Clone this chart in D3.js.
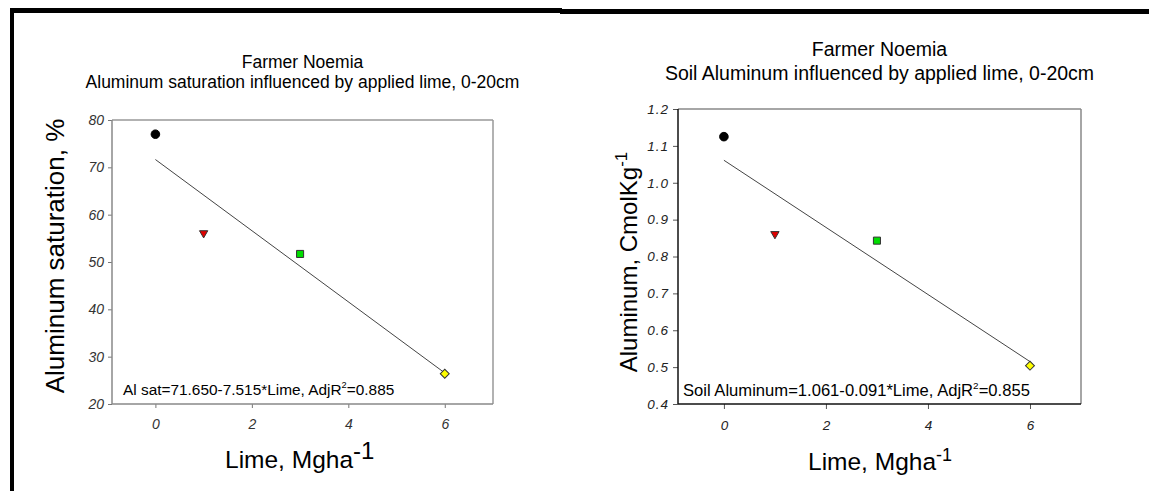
<!DOCTYPE html>
<html>
<head>
<meta charset="utf-8">
<script src="https://cdn.jsdelivr.net/npm/d3@7"></script>
<style>
  body { margin: 0; background: #fff; }
  text { font-family: "Liberation Sans", Arial, sans-serif; }
</style>
</head>
<body>
<script>
// values
const limeRates = [0, 1, 3, 6];
const alSatValues = [77.0, 56.1, 51.7, 26.4];
const soilAlValues = [1.125, 0.861, 0.843, 0.504];
const markerKinds = ['circle', 'triangle', 'square', 'diamond'];
const markerFills = ['#000000', '#e00000', '#00dd00', '#ffff00'];

// fitted lines as printed on the chart: [intercept, slope]
const alSatFit = [71.650, -7.515];
const soilAlFit = [1.061, -0.091];

const xTicks = [0, 2, 4, 6];
const alSatTicks = [20, 30, 40, 50, 60, 70, 80];
const soilAlTicks = [0.4, 0.5, 0.6, 0.7, 0.8, 0.9, 1.0, 1.1, 1.2];

const WIDTH = 1149, HEIGHT = 491;

const svg = d3.select('body').append('svg')
    .attr('width', WIDTH)
    .attr('height', HEIGHT);

// black page border bits (top bar + left bar)
svg.append('rect').attr('x', 10).attr('y', 8).attr('width', 552).attr('height', 5).attr('fill', '#000');
svg.append('rect').attr('x', 560).attr('y', 9).attr('width', 589).attr('height', 5).attr('fill', '#000');
svg.append('rect').attr('x', 10).attr('y', 8).attr('width', 4).attr('height', 483).attr('fill', '#000');

const symbolFor = {
    circle: d3.symbol().type(d3.symbolCircle).size(58),
    triangle: d3.symbol().type(d3.symbolTriangle).size(30),
    square: d3.symbol().type(d3.symbolSquare).size(50),
    diamond: d3.symbol().type(d3.symbolSquare).size(40)
};
const rotateFor = { circle: 0, triangle: 180, square: 0, diamond: 45 };

function drawPanel(p) {
    const x = d3.scaleLinear().domain([-0.9, 7]).range([p.left, p.right]);
    const y = d3.scaleLinear().domain(p.yDomain).range([p.bottom, p.top]);

    // titles
    svg.append('text')
        .attr('x', (p.left + p.right) / 2)
        .attr('y', p.titleY[0])
        .attr('text-anchor', 'middle')
        .style('font-size', p.titleSize + 'px')
        .text('Farmer Noemia');
    svg.append('text')
        .attr('x', (p.left + p.right) / 2)
        .attr('y', p.titleY[1])
        .attr('text-anchor', 'middle')
        .style('font-size', p.titleSize + 'px')
        .text(p.subtitle);

    // axes
    const yAxis = d3.axisLeft(y)
        .tickValues(p.yTicks)
        .tickSize(p.tickLen)
        .tickPadding(4)
        .tickFormat(p.yFormat);
    const yG = svg.append('g')
        .attr('transform', `translate(${p.left},0)`)
        .call(yAxis);
    yG.select('.domain').remove();
    yG.selectAll('line').attr('stroke', p.tickColor);
    yG.selectAll('text')
        .style('font-size', p.tickFont + 'px')
        .style('font-style', 'italic')
        .style('letter-spacing', p.tickSpacing + 'px')
        .attr('fill', p.tickTextColor);

    const xAxis = d3.axisBottom(x)
        .tickValues(xTicks)
        .tickSize(p.tickLen)
        .tickPadding(11)
        .tickFormat(d3.format('d'));
    const xG = svg.append('g')
        .attr('transform', `translate(0,${p.bottom})`)
        .call(xAxis);
    xG.select('.domain').remove();
    xG.selectAll('line').attr('stroke', p.tickColor);
    xG.selectAll('text')
        .style('font-size', p.tickFont + 'px')
        .style('font-style', 'italic')
        .attr('fill', p.tickTextColor);

    // frame
    svg.append('line').attr('x1', p.left).attr('x2', p.right).attr('y1', p.top).attr('y2', p.top)
        .attr('stroke', p.frameLight).attr('stroke-width', 1.5);
    svg.append('line').attr('x1', p.right).attr('x2', p.right).attr('y1', p.top).attr('y2', p.bottom)
        .attr('stroke', p.frameLight).attr('stroke-width', 1.5);
    svg.append('line').attr('x1', p.left).attr('x2', p.left).attr('y1', p.top).attr('y2', p.bottom)
        .attr('stroke', p.frameDark).attr('stroke-width', 1.5);
    svg.append('line').attr('x1', p.left).attr('x2', p.right).attr('y1', p.bottom).attr('y2', p.bottom)
        .attr('stroke', p.frameDark).attr('stroke-width', 1.5);

    // regression line
    const fitX = [limeRates[0], limeRates[limeRates.length - 1]];
    svg.append('line')
        .attr('x1', x(fitX[0])).attr('y1', y(p.fit[0] + p.fit[1] * fitX[0]))
        .attr('x2', x(fitX[1])).attr('y2', y(p.fit[0] + p.fit[1] * fitX[1]))
        .attr('stroke', '#444')
        .attr('stroke-width', 1);

    // points
    svg.append('g')
        .selectAll('path')
        .data(limeRates.map((d, i) => ({ lime: d, val: p.values[i], kind: markerKinds[i], fill: markerFills[i] })))
        .enter()
        .append('path')
        .attr('d', d => symbolFor[d.kind]())
        .attr('transform', d => `translate(${x(d.lime)},${y(d.val)}) rotate(${rotateFor[d.kind]})`)
        .attr('fill', d => d.fill)
        .attr('stroke', d => d.kind === 'circle' ? '#000' : '#333')
        .attr('stroke-width', 1);

    // equation
    const eq = svg.append('text')
        .attr('x', p.eqX)
        .attr('y', p.eqY)
        .style('font-size', p.eqSize + 'px');
    eq.append('tspan').text(p.eqText);
    eq.append('tspan').attr('dy', -7).style('font-size', (p.eqSize * 0.6) + 'px').text('2');
    eq.append('tspan').attr('dy', 7).text('=' + p.eqR2);

    // x title
    const xt = svg.append('text')
        .attr('x', p.xTitleX)
        .attr('y', p.xTitleY)
        .style('font-size', '24.5px');
    xt.append('tspan').text('Lime, Mgha');
    xt.append('tspan').attr('dy', -9).style('font-size', p.xSupSize + 'px').text('-1');

    // y title
    const yt = svg.append('text')
        .attr('transform', `translate(${p.yTitleX},${p.yTitleY}) rotate(-90)`)
        .attr('text-anchor', 'middle')
        .style('font-size', p.yTitleSize + 'px');
    yt.append('tspan').text(p.yTitle);
    if (p.yTitleSup) {
        yt.append('tspan').attr('dy', -10).style('font-size', '17px').text(p.yTitleSup);
    }
}

drawPanel({
    left: 112, right: 493, top: 120, bottom: 404,
    yDomain: [20, 80], yTicks: alSatTicks, yFormat: d3.format('d'),
    values: alSatValues, fit: alSatFit,
    titleY: [68, 88], titleSize: 17.5,
    subtitle: 'Aluminum saturation influenced by applied lime, 0-20cm',
    tickLen: 4, tickFont: 14, tickSpacing: 0, tickColor: '#777', tickTextColor: '#333',
    frameLight: '#999', frameDark: '#888',
    eqX: 123, eqY: 395, eqSize: 15.4,
    eqText: 'Al sat=71.650-7.515*Lime, AdjR', eqR2: '0.885',
    xTitleX: 225, xTitleY: 468, xSupSize: 24,
    yTitleX: 64, yTitleY: 256, yTitleSize: 26,
    yTitle: 'Aluminum saturation, %', yTitleSup: null
});

drawPanel({
    left: 678, right: 1081, top: 109, bottom: 404,
    yDomain: [0.4, 1.2], yTicks: soilAlTicks, yFormat: d3.format('.1f'),
    values: soilAlValues, fit: soilAlFit,
    titleY: [56, 80], titleSize: 19.5,
    subtitle: 'Soil Aluminum influenced by applied lime, 0-20cm',
    tickLen: 5, tickFont: 13.5, tickSpacing: 1, tickColor: '#555', tickTextColor: '#222',
    frameLight: '#888', frameDark: '#111',
    eqX: 683, eqY: 396, eqSize: 16.6,
    eqText: 'Soil Aluminum=1.061-0.091*Lime, AdjR', eqR2: '0.855',
    xTitleX: 808, xTitleY: 470, xSupSize: 18,
    yTitleX: 637, yTitleY: 262, yTitleSize: 24,
    yTitle: 'Aluminum, CmolKg', yTitleSup: '-1'
});
</script>
</body>
</html>
